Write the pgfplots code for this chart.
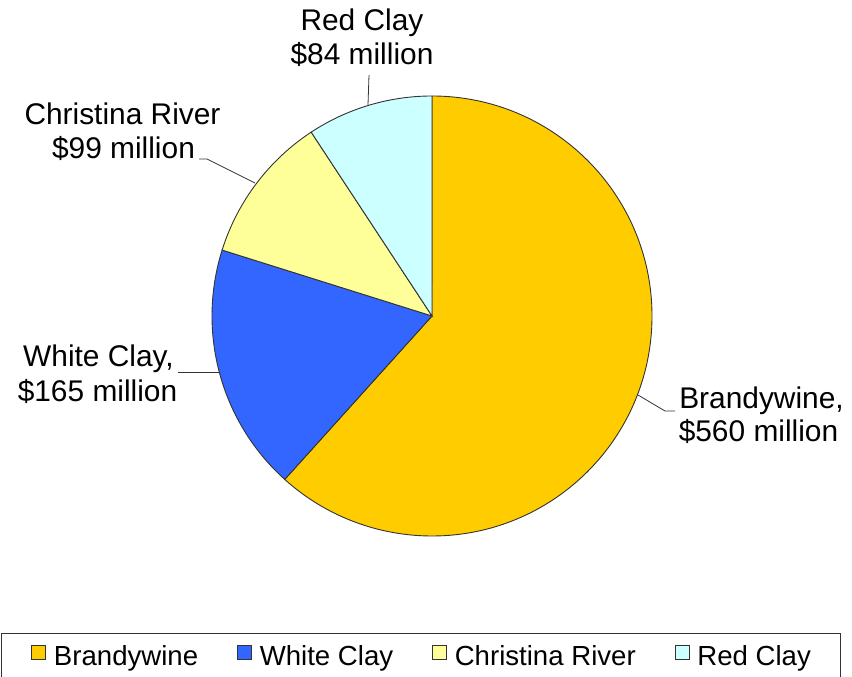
\documentclass[border=0pt]{standalone}
\usepackage{fontspec}
\setmainfont{Liberation Sans}
\usepackage{pgfplots}
\usepackage{pgfplotstable}
\pgfplotsset{compat=1.18}
\definecolor{brandy}{HTML}{FFCC00}
\definecolor{whiteclay}{HTML}{3366FF}
\definecolor{christina}{HTML}{FFFF99}
\definecolor{redclay}{HTML}{CCFFFF}
\definecolor{edge}{HTML}{333333}
\newcommand{\lab}{\fontsize{30}{34}\selectfont}
\pgfplotstableread[col sep=comma]{
name,value
Brandywine,560
White Clay,165
Christina River,99
Red Clay,84
}\piedata
\begin{document}
\begin{tikzpicture}
\pgfplotstablegetelem{0}{value}\of\piedata \let\vA\pgfplotsretval
\pgfplotstablegetelem{1}{value}\of\piedata \let\vB\pgfplotsretval
\pgfplotstablegetelem{2}{value}\of\piedata \let\vC\pgfplotsretval
\pgfplotstablegetelem{3}{value}\of\piedata \let\vD\pgfplotsretval
\pgfmathsetmacro\tot{\vA+\vB+\vC+\vD}
\pgfmathsetmacro\aA{90-360*(\vA/\tot)}
\pgfmathsetmacro\aB{\aA-360*(\vB/\tot)}
\pgfmathsetmacro\aC{\aB-360*(\vC/\tot)}
\pgfmathsetmacro\aD{\aC-360*(\vD/\tot)}
\begin{axis}[
  name=ax, hide axis, x=1bp, y=1bp,
  xmin=0, xmax=852, ymin=0, ymax=677, clip=false,
  legend columns=4,
  legend image code/.code={\draw[#1] (0bp,-3bp) rectangle (14bp,11bp);},
  legend style={at={(axis cs:1,44)}, anchor=north west,
    draw=edge, line width=0.8bp, inner xsep=30bp, inner ysep=12bp,
    font=\fontsize{27.7}{30}\selectfont, nodes={inner sep=0pt},
    /tikz/every odd column/.style={column sep=8bp},
    /tikz/every even column/.style={column sep=39bp}},
]
\addlegendimage{fill=brandy, draw=edge, line width=0.6bp}
\addlegendentry{Brandywine}
\addlegendimage{fill=whiteclay, draw=edge, line width=0.6bp}
\addlegendentry{White Clay}
\addlegendimage{fill=christina, draw=edge, line width=0.6bp}
\addlegendentry{Christina River}
\addlegendimage{fill=redclay, draw=edge, line width=0.6bp}
\addlegendentry{Red Clay}

\filldraw[fill=brandy, draw=edge, line width=0.9bp] (axis cs:432,361) -- ++(90:220bp) arc[start angle=90, end angle=\aA, radius=220bp] -- cycle;
\filldraw[fill=whiteclay, draw=edge, line width=0.9bp] (axis cs:432,361) -- ++(\aA:220bp) arc[start angle=\aA, end angle=\aB, radius=220bp] -- cycle;
\filldraw[fill=christina, draw=edge, line width=0.9bp] (axis cs:432,361) -- ++(\aB:220bp) arc[start angle=\aB, end angle=\aC, radius=220bp] -- cycle;
\filldraw[fill=redclay, draw=edge, line width=0.9bp] (axis cs:432,361) -- ++(\aC:220bp) arc[start angle=\aC, end angle=\aD, radius=220bp] -- cycle;

\draw[edge, line width=0.8bp] (axis cs:369,602) -- (axis cs:368,572);
\draw[edge, line width=0.8bp] (axis cs:199,518) -- (axis cs:207,518) -- (axis cs:255,494);
\draw[edge, line width=0.8bp] (axis cs:178,305) -- (axis cs:219,305);
\draw[edge, line width=0.8bp] (axis cs:638,282) -- (axis cs:665,266) -- (axis cs:675,266);

\node[anchor=base, font=\lab, inner sep=0pt] at (axis cs:362,646) {Red Clay};
\node[anchor=base, font=\lab, inner sep=0pt] at (axis cs:362,612) {\$84 million};
\node[anchor=base, font=\lab, inner sep=0pt] at (axis cs:122.5,552) {Christina River};
\node[anchor=base, font=\lab, inner sep=0pt] at (axis cs:123.5,518) {\$99 million};
\node[anchor=base, font=\lab, inner sep=0pt] at (axis cs:98.5,310) {White Clay,};
\node[anchor=base, font=\lab, inner sep=0pt] at (axis cs:97.5,275) {\$165 million};
\node[anchor=base, font=\lab, inner sep=0pt] at (axis cs:761.5,268) {Brandywine,};
\node[anchor=base, font=\lab, inner sep=0pt] at (axis cs:758.5,235) {\$560 million};
\end{axis}
\pgfresetboundingbox
\path (ax.south west) rectangle (ax.north east);
\end{tikzpicture}
\end{document}
